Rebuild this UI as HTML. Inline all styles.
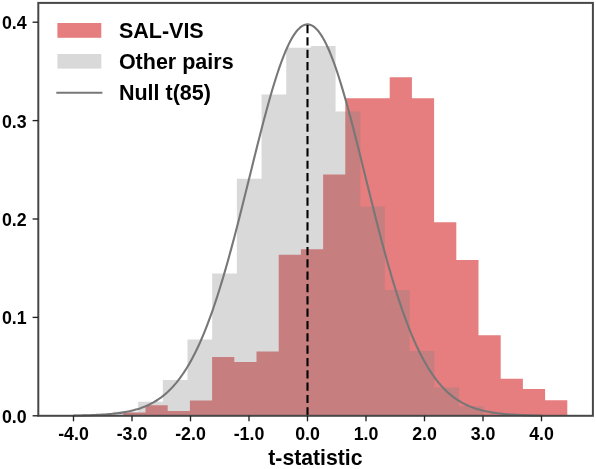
<!DOCTYPE html>
<html><head><meta charset="utf-8"><title>t-statistic histogram</title>
<style>
html,body{margin:0;padding:0;background:#fff;}
body{width:596px;height:469px;overflow:hidden;}
svg{display:block;filter:blur(0.5px);}
text{font-family:"Liberation Sans",Arial,Helvetica,sans-serif;font-weight:bold;fill:#000;}
.tick{font-size:17.8px;}
.leg{font-size:21.5px;}
.lab{font-size:21.2px;}
</style></head><body>
<svg width="596" height="469" viewBox="0 0 596 469">
<rect x="0" y="0" width="596" height="469" fill="#ffffff"/>
<path d="M123.30,415.80L123.30,412.50L145.50,412.50L145.50,405.20L167.70,405.20L167.70,411.00L189.90,411.00L189.90,400.40L212.10,400.40L212.10,356.90L234.30,356.90L234.30,361.90L256.50,361.90L256.50,351.60L278.70,351.60L278.70,254.80L300.90,254.80L300.90,249.20L323.10,249.20L323.10,174.40L345.30,174.40L345.30,98.30L367.50,98.30L367.50,98.30L389.70,98.30L389.70,77.20L411.90,77.20L411.90,98.30L434.10,98.30L434.10,222.30L456.30,222.30L456.30,260.00L478.50,260.00L478.50,335.20L500.70,335.20L500.70,378.80L522.90,378.80L522.90,389.00L545.10,389.00L545.10,400.30L567.30,400.30L567.30,415.80Z" fill="#d62728" fill-opacity="0.6"/>
<path d="M113.50,415.80L113.50,411.70L138.17,411.70L138.17,401.80L162.85,401.80L162.85,380.00L187.52,380.00L187.52,339.50L212.19,339.50L212.19,273.60L236.87,273.60L236.87,178.70L261.54,178.70L261.54,94.40L286.21,94.40L286.21,47.80L310.88,47.80L310.88,46.10L335.56,46.10L335.56,111.60L360.23,111.60L360.23,206.40L384.90,206.40L384.90,290.00L409.58,290.00L409.58,351.10L434.25,351.10L434.25,387.60L458.92,387.60L458.92,406.20L483.59,406.20L483.59,415.80Z" fill="#808080" fill-opacity="0.3"/>
<path d="M73.50,415.56L75.06,415.54L76.62,415.52L78.18,415.49L79.74,415.46L81.30,415.43L82.86,415.40L84.42,415.36L85.98,415.32L87.54,415.28L89.10,415.23L90.66,415.18L92.22,415.12L93.78,415.06L95.34,414.99L96.90,414.92L98.46,414.85L100.02,414.76L101.58,414.67L103.14,414.58L104.70,414.47L106.26,414.36L107.82,414.24L109.38,414.11L110.94,413.96L112.50,413.81L114.06,413.65L115.62,413.47L117.18,413.28L118.74,413.08L120.30,412.86L121.86,412.62L123.42,412.37L124.98,412.10L126.54,411.81L128.10,411.50L129.66,411.17L131.22,410.82L132.78,410.44L134.34,410.04L135.90,409.61L137.46,409.15L139.02,408.66L140.58,408.14L142.14,407.58L143.70,406.99L145.26,406.36L146.82,405.69L148.38,404.98L149.94,404.23L151.50,403.43L153.06,402.59L154.62,401.69L156.18,400.75L157.74,399.75L159.30,398.69L160.86,397.57L162.42,396.39L163.98,395.15L165.54,393.84L167.10,392.46L168.66,391.00L170.22,389.48L171.78,387.87L173.34,386.19L174.90,384.42L176.46,382.57L178.02,380.63L179.58,378.59L181.14,376.47L182.70,374.25L184.26,371.93L185.82,369.51L187.38,366.98L188.94,364.35L190.50,361.62L192.06,358.77L193.62,355.81L195.18,352.73L196.74,349.55L198.30,346.24L199.86,342.81L201.42,339.27L202.98,335.60L204.54,331.82L206.10,327.91L207.66,323.88L209.22,319.72L210.78,315.45L212.34,311.05L213.90,306.53L215.46,301.89L217.02,297.14L218.58,292.26L220.14,287.27L221.70,282.17L223.26,276.96L224.82,271.64L226.38,266.22L227.94,260.70L229.50,255.08L231.06,249.37L232.62,243.58L234.18,237.70L235.74,231.75L237.30,225.73L238.86,219.65L240.42,213.51L241.98,207.33L243.54,201.10L245.10,194.84L246.66,188.55L248.22,182.25L249.78,175.94L251.34,169.63L252.90,163.33L254.46,157.04L256.02,150.79L257.58,144.58L259.14,138.41L260.70,132.31L262.26,126.27L263.82,120.31L265.38,114.44L266.94,108.68L268.50,103.02L270.06,97.49L271.62,92.08L273.18,86.82L274.74,81.72L276.30,76.77L277.86,71.99L279.42,67.40L280.98,63.00L282.54,58.79L284.10,54.80L285.66,51.02L287.22,47.46L288.78,44.14L290.34,41.06L291.90,38.22L293.46,35.63L295.02,33.30L296.58,31.23L298.14,29.43L299.70,27.90L301.26,26.64L302.82,25.66L304.38,24.96L305.94,24.53L307.50,24.39L309.06,24.53L310.62,24.96L312.18,25.66L313.74,26.64L315.30,27.90L316.86,29.43L318.42,31.23L319.98,33.30L321.54,35.63L323.10,38.22L324.66,41.06L326.22,44.14L327.78,47.46L329.34,51.02L330.90,54.80L332.46,58.79L334.02,63.00L335.58,67.40L337.14,71.99L338.70,76.77L340.26,81.72L341.82,86.82L343.38,92.08L344.94,97.49L346.50,103.02L348.06,108.68L349.62,114.44L351.18,120.31L352.74,126.27L354.30,132.31L355.86,138.41L357.42,144.58L358.98,150.79L360.54,157.04L362.10,163.33L363.66,169.63L365.22,175.94L366.78,182.25L368.34,188.55L369.90,194.84L371.46,201.10L373.02,207.33L374.58,213.51L376.14,219.65L377.70,225.73L379.26,231.75L380.82,237.70L382.38,243.58L383.94,249.37L385.50,255.08L387.06,260.70L388.62,266.22L390.18,271.64L391.74,276.96L393.30,282.17L394.86,287.27L396.42,292.26L397.98,297.14L399.54,301.89L401.10,306.53L402.66,311.05L404.22,315.45L405.78,319.72L407.34,323.88L408.90,327.91L410.46,331.82L412.02,335.60L413.58,339.27L415.14,342.81L416.70,346.24L418.26,349.55L419.82,352.73L421.38,355.81L422.94,358.77L424.50,361.62L426.06,364.35L427.62,366.98L429.18,369.51L430.74,371.93L432.30,374.25L433.86,376.47L435.42,378.59L436.98,380.63L438.54,382.57L440.10,384.42L441.66,386.19L443.22,387.87L444.78,389.48L446.34,391.00L447.90,392.46L449.46,393.84L451.02,395.15L452.58,396.39L454.14,397.57L455.70,398.69L457.26,399.75L458.82,400.75L460.38,401.69L461.94,402.59L463.50,403.43L465.06,404.23L466.62,404.98L468.18,405.69L469.74,406.36L471.30,406.99L472.86,407.58L474.42,408.14L475.98,408.66L477.54,409.15L479.10,409.61L480.66,410.04L482.22,410.44L483.78,410.82L485.34,411.17L486.90,411.50L488.46,411.81L490.02,412.10L491.58,412.37L493.14,412.62L494.70,412.86L496.26,413.08L497.82,413.28L499.38,413.47L500.94,413.65L502.50,413.81L504.06,413.96L505.62,414.11L507.18,414.24L508.74,414.36L510.30,414.47L511.86,414.58L513.42,414.67L514.98,414.76L516.54,414.85L518.10,414.92L519.66,414.99L521.22,415.06L522.78,415.12L524.34,415.18L525.90,415.23L527.46,415.28L529.02,415.32L530.58,415.36L532.14,415.40L533.70,415.43L535.26,415.46L536.82,415.49L538.38,415.52L539.94,415.54L541.50,415.56" fill="none" stroke="#777" stroke-width="2.1" stroke-linejoin="round"/>
<line x1="307.5" y1="25.0" x2="307.5" y2="415.8" stroke="#000" stroke-width="2.1" stroke-dasharray="8.22 4.11"/>
<rect x="38.3" y="2.9" width="554.6" height="412.90000000000003" stroke="#474747" stroke-width="2.0" fill="none"/>
<g stroke="#222" stroke-width="1.35" fill="none">

<line x1="73.50" y1="415.8" x2="73.50" y2="421.3"/>
<line x1="132.00" y1="415.8" x2="132.00" y2="421.3"/>
<line x1="190.50" y1="415.8" x2="190.50" y2="421.3"/>
<line x1="249.00" y1="415.8" x2="249.00" y2="421.3"/>
<line x1="307.50" y1="415.8" x2="307.50" y2="421.3"/>
<line x1="366.00" y1="415.8" x2="366.00" y2="421.3"/>
<line x1="424.50" y1="415.8" x2="424.50" y2="421.3"/>
<line x1="483.00" y1="415.8" x2="483.00" y2="421.3"/>
<line x1="541.50" y1="415.8" x2="541.50" y2="421.3"/>
<line x1="38.3" y1="415.80" x2="32.599999999999994" y2="415.80"/>
<line x1="38.3" y1="317.40" x2="32.599999999999994" y2="317.40"/>
<line x1="38.3" y1="219.00" x2="32.599999999999994" y2="219.00"/>
<line x1="38.3" y1="120.60" x2="32.599999999999994" y2="120.60"/>
<line x1="38.3" y1="22.20" x2="32.599999999999994" y2="22.20"/>
</g>
<text class="tick" x="73.50" y="440.3" text-anchor="middle">-4.0</text>
<text class="tick" x="132.00" y="440.3" text-anchor="middle">-3.0</text>
<text class="tick" x="190.50" y="440.3" text-anchor="middle">-2.0</text>
<text class="tick" x="249.00" y="440.3" text-anchor="middle">-1.0</text>
<text class="tick" x="307.50" y="440.3" text-anchor="middle">0.0</text>
<text class="tick" x="366.00" y="440.3" text-anchor="middle">1.0</text>
<text class="tick" x="424.50" y="440.3" text-anchor="middle">2.0</text>
<text class="tick" x="483.00" y="440.3" text-anchor="middle">3.0</text>
<text class="tick" x="541.50" y="440.3" text-anchor="middle">4.0</text>
<text class="tick" x="26.6" y="422.70" text-anchor="end">0.0</text>
<text class="tick" x="26.6" y="324.30" text-anchor="end">0.1</text>
<text class="tick" x="26.6" y="225.90" text-anchor="end">0.2</text>
<text class="tick" x="26.6" y="127.50" text-anchor="end">0.3</text>
<text class="tick" x="26.6" y="29.10" text-anchor="end">0.4</text>
<text class="lab" x="315.4" y="465.4" text-anchor="middle">t-statistic</text>
<rect x="57.4" y="23.0" width="43.9" height="14.8" fill="#d62728" fill-opacity="0.6"/>
<rect x="57.4" y="54.0" width="43.9" height="14.6" fill="#808080" fill-opacity="0.3"/>
<line x1="56.3" y1="92.8" x2="102.4" y2="92.8" stroke="#777" stroke-width="2.1"/>
<text class="leg" x="118.9" y="37.5">SAL-VIS</text>
<text class="leg" x="118.9" y="68.8">Other pairs</text>
<text class="leg" x="118.9" y="99.7">Null t(85)</text>
</svg></body></html>
